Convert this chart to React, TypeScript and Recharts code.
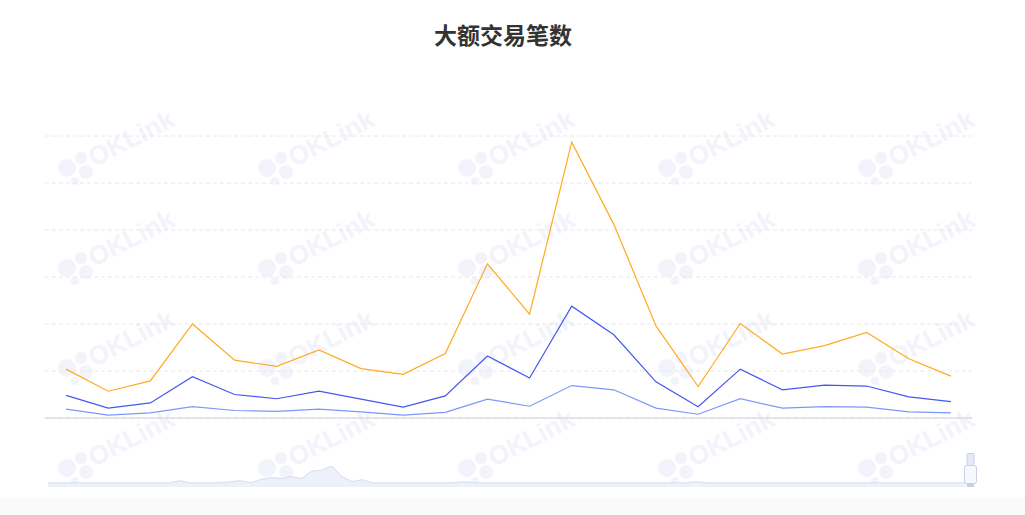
import React from "react";
import { LineChart, Line, XAxis, YAxis, CartesianGrid, AreaChart, Area } from "recharts";

const dates = [
  "05-01", "05-02", "05-03", "05-04", "05-05", "05-06", "05-07", "05-08", "05-09", "05-10", "05-11",
  "05-12", "05-13", "05-14", "05-15", "05-16", "05-17", "05-18", "05-19", "05-20", "05-21", "05-22",
];
const seriesTop = [104, 57, 79, 200, 123, 110, 145, 105, 93, 137, 328, 221, 587, 412, 196, 67, 201, 136, 154, 182, 126, 89];
const seriesMid = [48, 21, 32, 88, 50, 41, 57, 40, 23, 47, 132, 85, 238, 177, 77, 24, 104, 60, 70, 68, 45, 35];
const seriesLow = [19, 6, 11, 24, 16, 14, 19, 13, 6, 12, 40, 25, 69, 60, 21, 8, 41, 21, 24, 23, 13, 11];
const yTicks = [0, 100, 200, 300, 400, 500, 600];

const overviewValues = [
  4, 4, 4, 4, 4, 4, 4, 4, 4, 4, 4, 4, 4, 6, 4, 4, 4, 4, 5, 6, 4, 7, 9, 8, 10, 8, 15, 16, 20, 10,
  5, 7, 4, 4, 4, 4, 4, 4, 4, 4, 4, 5, 4, 4, 4, 4, 4, 4, 4, 4, 4, 4, 4, 4, 4, 4, 4, 4, 4, 4,
  4, 4, 4, 4, 5, 4, 4, 4, 4, 4, 4, 4, 4, 4, 4, 4, 4, 4, 4, 4, 4, 4, 4, 4, 4, 4, 4, 4, 4, 4, 4, 4,
];

const data = dates.map((d, i) => ({ date: d, top: seriesTop[i], mid: seriesMid[i], low: seriesLow[i] }));
const overview = overviewValues.map((v, i) => ({ i, v }));

const wmCols = [0, 1, 2, 3, 4];
const wmRows = [0, 1, 2, 3];

function Watermark() {
  const color = "#f2f3fb";
  return (
    <svg width={1025} height={515} style={{ position: "absolute", left: 0, top: 0 }}>
      {wmRows.map((r) =>
        wmCols.map((c) => {
          const cx = 67 + c * 200;
          const cy = 168 + r * 100;
          return (
            <g key={`${r}-${c}`}>
              <circle cx={cx} cy={cy} r={9} fill={color} />
              <circle cx={cx + 14} cy={cy - 10} r={6} fill={color} />
              <circle cx={cx + 19} cy={cy + 4} r={7} fill={color} />
              <circle cx={cx + 8} cy={cy + 13} r={4} fill={color} />
              <text
                x={cx + 27}
                y={cy - 1}
                fill={color}
                fontSize={26}
                fontWeight="bold"
                fontFamily="Liberation Sans, Arial, sans-serif"
                transform={`rotate(-27 ${cx + 27} ${cy - 1})`}
              >
                OKLink
              </text>
            </g>
          );
        })
      )}
    </svg>
  );
}

export default function App() {
  return (
    <div style={{ position: "absolute", left: 0, top: 0, width: 1025, height: 515, background: "#ffffff", overflow: "hidden" }}>
      <div style={{ position: "absolute", left: 0, top: 498, width: 1025, height: 17, background: "#fafafa" }} />
      <Watermark />
      <svg width={1025} height={60} style={{ position: "absolute", left: 0, top: 0 }}>
        <text
          x={503}
          y={44}
          textAnchor="middle"
          fontSize={23}
          fontWeight="bold"
          fill="#333333"
          fontFamily="Noto Sans CJK SC, sans-serif"
        >
          大额交易笔数
        </text>
      </svg>
      <div style={{ position: "absolute", left: 0, top: 0 }}>
        <LineChart width={1025} height={430} data={data} margin={{ top: 136, right: 53, bottom: 11, left: 45 }}>
          <CartesianGrid vertical={false} stroke="#e8e8e8" strokeDasharray="4 3" />
          <XAxis dataKey="date" scale="band" height={1} tick={false} tickLine={false} axisLine={{ stroke: "#d2d2d2" }} />
          <YAxis hide domain={[0, 600]} ticks={yTicks} />
          <Line type="linear" dataKey="top" name="大额笔数A" stroke="#FFAA1F" strokeWidth={1.2} dot={false} isAnimationActive={false} />
          <Line type="linear" dataKey="mid" name="大额笔数B" stroke="#4657EE" strokeWidth={1.2} dot={false} isAnimationActive={false} />
          <Line type="linear" dataKey="low" name="大额笔数C" stroke="#7C98FA" strokeWidth={1.2} dot={false} isAnimationActive={false} />
        </LineChart>
      </div>
      <div style={{ position: "absolute", left: 0, top: 462 }}>
        <AreaChart width={1025} height={25} data={overview} margin={{ top: 4, right: 55, bottom: 0, left: 48 }}>
          <XAxis dataKey="i" hide />
          <YAxis hide domain={[0, 20]} />
          <Area type="linear" dataKey="v" stroke="#d6dcf0" strokeWidth={1} fill="#eef1f9" fillOpacity={1} isAnimationActive={false} />
        </AreaChart>
      </div>
      <svg width={30} height={40} style={{ position: "absolute", left: 955, top: 450 }}>
        <rect x={12} y={3.5} width={7} height={12} rx={1} fill="#e6eaf8" stroke="#c8cfea" />
        <rect x={9.5} y={15.5} width={12} height={18} rx={2} fill="#f6f8fd" stroke="#c8cfea" />
        <rect x={12} y={33} width={7} height={4} fill="#c8cfea" />
      </svg>
    </div>
  );
}
